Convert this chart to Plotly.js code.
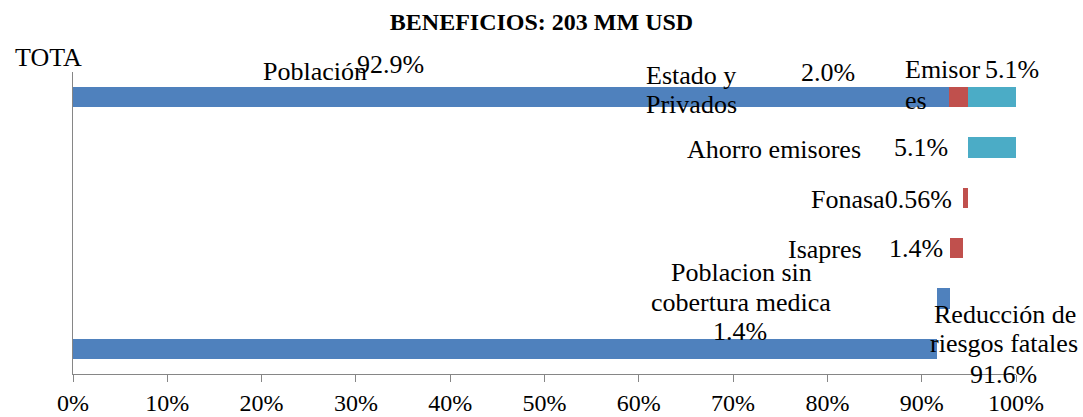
<!DOCTYPE html>
<html>
<head>
<meta charset="utf-8">
<script src="https://cdn.plot.ly/plotly-3.0.1.min.js"></script>
<style>
  html, body { margin: 0; padding: 0; background: #ffffff; }
  #chart { width: 1083px; height: 417px; }
</style>
</head>
<body>
<div id="chart"></div>
<script>
// ---- Data ----
const categories = ["TOTAL", "Ahorro emisores", "Fonasa", "Isapres", "Poblacion sin cobertura medica", "Reducción de riesgos fatales"];
const baseValues  = [0,    94.9, 94.4, 93.0, 91.6, 0];     // invisible offsets (waterfall)
const blueValues  = [92.9, 0,    0,    0,    1.4,  91.6];  // Población
const redValues   = [2.0,  0,    0.56, 1.4,  0,    0];     // Estado y Privados
const cyanValues  = [5.1,  5.1,  0,    0,    0,    0];     // Emisores
const xTickVals   = [0, 10, 20, 30, 40, 50, 60, 70, 80, 90, 100];
const xTickText   = ["0%", "10%", "20%", "30%", "40%", "50%", "60%", "70%", "80%", "90%", "100%"];
const titleText   = "BENEFICIOS: 203 MM USD";

// ---- Layout constants ----
const W = 1083, H = 417;
const M = { l: 73, r: 67, t: 72, b: 43 };
const FONT = "Liberation Serif, Times New Roman, serif";
const COLORS = { blue: "#4F81BD", red: "#C0504D", cyan: "#4BACC6", axis: "#868686" };

const common = {
  type: "bar",
  orientation: "h",
  y: categories,
  hoverinfo: "x+y"
};

const traces = [
  Object.assign({}, common, { name: "base", x: baseValues, marker: { color: "rgba(0,0,0,0)" }, hoverinfo: "skip" }),
  Object.assign({}, common, { name: "Población", x: blueValues, marker: { color: COLORS.blue } }),
  Object.assign({}, common, { name: "Estado y Privados", x: redValues, marker: { color: COLORS.red } }),
  Object.assign({}, common, { name: "Emisores", x: cyanValues, marker: { color: COLORS.cyan } })
];

// pixel helpers for label placement
const pw = W - M.l - M.r, ph = H - M.t - M.b;
const px = v => (v - M.l) / pw;
const py = v => 1 - (v - M.t) / ph;

// [text, centerX(px), centerY(px)]
const labels = [
  ["TOTA", 48, 57],
  ["Población", 315, 71],
  ["92.9%", 390, 64],
  ["Estado y", 691, 75],
  ["Privados", 691, 104],
  ["2.0%", 828, 72],
  ["Emisor", 942, 69],
  ["es", 916, 100],
  ["5.1%", 1012, 69],
  ["Ahorro emisores", 774, 149],
  ["5.1%", 921, 147],
  ["Fonasa0.56%", 881, 199],
  ["Isapres", 825, 249],
  ["1.4%", 916, 248],
  ["Poblacion sin", 741, 272],
  ["cobertura medica", 741, 302],
  ["1.4%", 740, 331],
  ["Reducción de", 1005, 314],
  ["riesgos fatales", 1004, 343],
  ["91.6%", 1003, 374]
];

const annotations = labels.map(([t, x, y]) => ({
  text: t,
  xref: "paper", yref: "paper",
  x: px(x), y: py(y),
  xanchor: "center", yanchor: "middle",
  showarrow: false,
  font: { family: FONT, size: 26, color: "#000000" },
  borderpad: 0
}));

const layout = {
  width: W, height: H,
  margin: M,
  paper_bgcolor: "#ffffff",
  plot_bgcolor: "#ffffff",
  barmode: "stack",
  bargap: 0.6,
  showlegend: false,
  font: { family: FONT, size: 24, color: "#000000" },
  title: {
    text: "<b>" + titleText + "</b>",
    font: { family: FONT, size: 24, color: "#000000" },
    xref: "container", x: 0.5, xanchor: "center",
    yref: "container", y: 1 - 22 / H, yanchor: "middle"
  },
  xaxis: {
    range: [0, 100],
    tickvals: xTickVals,
    ticktext: xTickText,
    ticks: "outside",
    ticklen: 7,
    tickwidth: 1,
    tickcolor: COLORS.axis,
    showline: true,
    linecolor: COLORS.axis,
    linewidth: 1,
    showgrid: false,
    zeroline: false,
    tickfont: { family: FONT, size: 24, color: "#000000" },
    fixedrange: true
  },
  yaxis: {
    type: "category",
    autorange: "reversed",
    showticklabels: false,
    ticks: "",
    showline: true,
    linecolor: COLORS.axis,
    linewidth: 1,
    showgrid: false,
    zeroline: false,
    fixedrange: true
  },
  annotations: annotations
};

Plotly.newPlot("chart", traces, layout, { displayModeBar: false, staticPlot: true });
</script>
</body>
</html>
